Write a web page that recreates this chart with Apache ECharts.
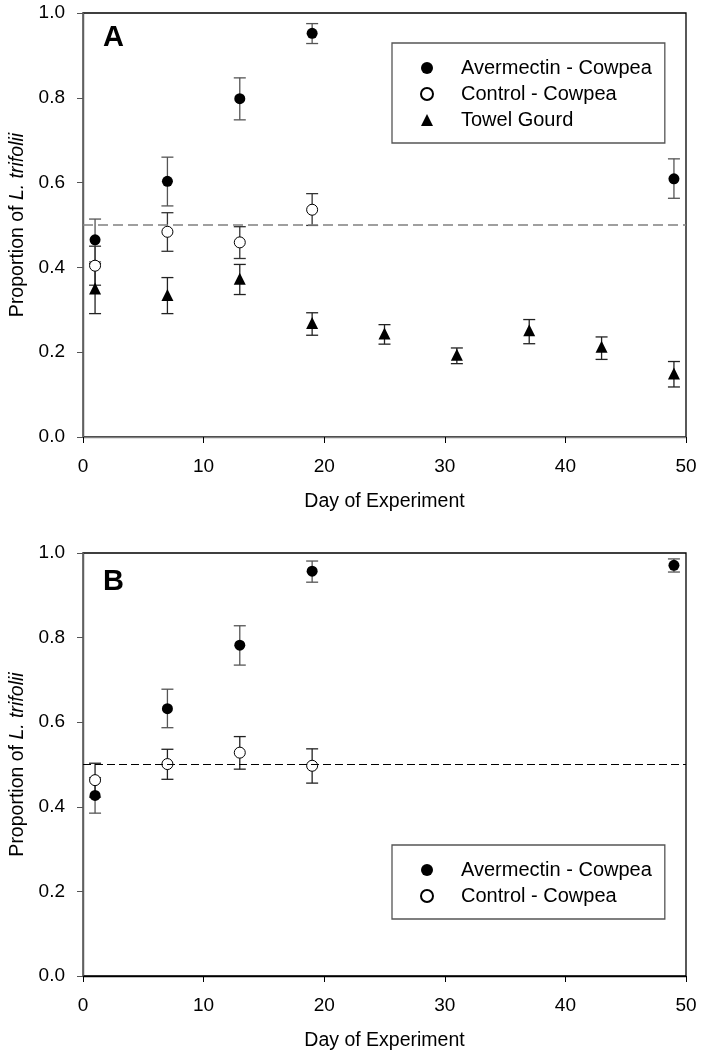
<!DOCTYPE html>
<html>
<head>
<meta charset="utf-8">
<script src="https://cdn.jsdelivr.net/npm/echarts@6/dist/echarts.min.js"></script>
<style>
  html, body { margin: 0; padding: 0; background: #fff; }
  #main { width: 702px; height: 1058px; }
</style>
</head>
<body>
<div id="main"></div>
<script>
// panel A
const avDaysA = [1, 7, 13, 19, 49];
const avMeanA = [0.465, 0.603, 0.798, 0.952, 0.609];
const avUpA = [0.514, 0.660, 0.847, 0.975, 0.656];
const avLowA = [0.413, 0.545, 0.748, 0.928, 0.563];

const ctDaysA = [1, 7, 13, 19];
const ctMeanA = [0.404, 0.484, 0.459, 0.536];
const ctUpA = [0.450, 0.529, 0.496, 0.574];
const ctLowA = [0.358, 0.438, 0.421, 0.499];

const tgDays = [1, 7, 13, 19, 25, 31, 37, 43, 49];
const tgMean = [0.350, 0.335, 0.373, 0.269, 0.244, 0.194, 0.252, 0.213, 0.150];
const tgUp = [0.409, 0.376, 0.407, 0.293, 0.265, 0.210, 0.277, 0.236, 0.178];
const tgLow = [0.291, 0.291, 0.336, 0.240, 0.219, 0.173, 0.220, 0.183, 0.118];

// panel B
const avDaysB = [1, 7, 13, 19, 49];
const avMeanB = [0.427, 0.632, 0.782, 0.957, 0.971];
const avUpB = [0.469, 0.678, 0.828, 0.981, 0.986];
const avLowB = [0.385, 0.587, 0.735, 0.931, 0.955];

const ctDaysB = [1, 7, 13, 19];
const ctMeanB = [0.463, 0.501, 0.528, 0.497];
const ctUpB = [0.503, 0.536, 0.566, 0.537];
const ctLowB = [0.423, 0.465, 0.489, 0.456];

const xTicks = [0, 10, 20, 30, 40, 50];
const yTicks = [0, 0.2, 0.4, 0.6, 0.8, 1.0];
const refLine = 0.5;

const FONT = '"Liberation Sans", Arial, sans-serif';
const AV = 'Avermectin - Cowpea';
const CT = 'Control - Cowpea';
const TG = 'Towel Gourd';

const pts = (xs, ys) => xs.map((x, i) => [x, ys[i]]);
const bars = (xs, lo, hi) => xs.map((x, i) => [x, lo[i], hi[i]]);

function errSeries(data, idx, color) {
  return {
    type: 'custom',
    xAxisIndex: idx, yAxisIndex: idx * 2,
    z: 1, silent: true,
    data: data,
    renderItem: function (params, api) {
      const x = api.value(0);
      const top = api.coord([x, api.value(2)]);
      const bot = api.coord([x, api.value(1)]);
      const w = 6;
      const st = { stroke: color, lineWidth: 1.3 };
      return {
        type: 'group',
        children: [
          { type: 'line', shape: { x1: top[0], y1: top[1], x2: bot[0], y2: bot[1] }, style: st },
          { type: 'line', shape: { x1: top[0] - w, y1: top[1], x2: top[0] + w, y2: top[1] }, style: st },
          { type: 'line', shape: { x1: bot[0] - w, y1: bot[1], x2: bot[0] + w, y2: bot[1] }, style: st }
        ]
      };
    }
  };
}

function dotSeries(name, data, idx, kind) {
  return {
    name: name,
    type: 'scatter',
    xAxisIndex: idx, yAxisIndex: idx * 2,
    z: 3,
    data: data,
    symbol: kind === 'tri' ? 'triangle' : 'circle',
    symbolSize: kind === 'tri' ? 12 : 11,
    itemStyle: kind === 'open'
      ? { color: '#fff', borderColor: '#000', borderWidth: 1, opacity: 1 }
      : { color: '#000', opacity: 1 }
  };
}

function refSeries(idx, color, dash, width) {
  return {
    type: 'line', xAxisIndex: idx, yAxisIndex: idx * 2,
    data: [], silent: true,
    markLine: {
      silent: true, symbol: 'none', label: { show: false },
      lineStyle: { color: color, type: dash, width: width },
      data: [{ yAxis: refLine }]
    }
  };
}

function xAx(idx, lineColor) {
  return {
    gridIndex: idx, type: 'value', min: xTicks[0], max: xTicks[xTicks.length - 1], interval: 10,
    name: 'Day of Experiment', nameLocation: 'middle', nameGap: 55, nameMoveOverlap: false,
    nameTextStyle: { fontFamily: FONT, fontSize: 19.5, color: '#000' },
    axisLine: { onZero: false, lineStyle: { color: lineColor, width: 1.3 } },
    axisTick: { length: 6, lineStyle: { color: '#000' } },
    axisLabel: { fontFamily: FONT, fontSize: 19, color: '#000', margin: 20 },
    splitLine: { show: false }
  };
}

function yAx(idx) {
  return [{
    gridIndex: idx, type: 'value', min: yTicks[0], max: yTicks[yTicks.length - 1], interval: 0.2,
    name: '{n|Proportion of }{i|L. trifolii}', nameLocation: 'middle', nameGap: 55, nameMoveOverlap: false,
    nameTextStyle: {
      fontFamily: FONT, fontSize: 19.5, color: '#000',
      rich: {
        n: { fontFamily: FONT, fontSize: 19.5, color: '#000' },
        i: { fontFamily: FONT, fontSize: 19.5, color: '#000', fontStyle: 'italic' }
      }
    },
    axisLine: { onZero: false, lineStyle: { color: '#000', width: 1.3 } },
    axisTick: { length: 6, lineStyle: { color: '#555' } },
    axisLabel: { fontFamily: FONT, fontSize: 19, color: '#000', margin: 18,
      formatter: v => v.toFixed(1) },
    splitLine: { show: false }
  }, {
    gridIndex: idx, type: 'value', position: 'right', min: 0, max: 1,
    axisLine: { show: true, lineStyle: { color: '#808080', width: 1.5 } },
    axisTick: { show: false }, axisLabel: { show: false }, splitLine: { show: false }
  }];
}

function legendAt(top, names) {
  return {
    orient: 'vertical', left: 392, top: top,
    data: names,
    itemWidth: 12, itemHeight: 12, itemGap: 6,
    padding: [15, 13, 13, 28],
    borderColor: '#555', borderWidth: 1.3, borderRadius: 0,
    selectedMode: false,
    textStyle: { fontFamily: FONT, fontSize: 20, color: '#000', padding: [0, 0, 0, 23] }
  };
}

const chart = echarts.init(document.getElementById('main'), null, { renderer: 'canvas' });
chart.setOption({
  animation: false,
  backgroundColor: '#fff',
  title: [
    { text: 'A', left: 98, top: 18, textStyle: { fontFamily: FONT, fontSize: 29, fontWeight: 'bold', color: '#000' } },
    { text: 'B', left: 98, top: 562, textStyle: { fontFamily: FONT, fontSize: 29, fontWeight: 'bold', color: '#000' } }
  ],
  grid: [
    { left: 83, top: 13, width: 603, height: 424, show: true, borderColor: '#000', borderWidth: 1.3, outerBoundsMode: 'none' },
    { left: 83, top: 553, width: 603, height: 423, show: true, borderColor: '#000', borderWidth: 1.3, outerBoundsMode: 'none' }
  ],
  legend: [
    legendAt(43, [AV, CT, TG]),
    legendAt(845, [AV, CT])
  ],
  xAxis: [xAx(0, '#808080'), xAx(1, '#000')],
  yAxis: yAx(0).concat(yAx(1)),
  series: [
    refSeries(0, '#808080', [10, 5], 1.6),
    refSeries(1, '#000', [8, 4], 1),
    errSeries(bars(avDaysA, avLowA, avUpA), 0, '#555'),
    errSeries(bars(ctDaysA, ctLowA, ctUpA), 0, '#333'),
    errSeries(bars(tgDays, tgLow, tgUp), 0, '#222'),
    errSeries(bars(avDaysB, avLowB, avUpB), 1, '#555'),
    errSeries(bars(ctDaysB, ctLowB, ctUpB), 1, '#222'),
    dotSeries(AV, pts(avDaysA, avMeanA), 0, 'fill'),
    dotSeries(CT, pts(ctDaysA, ctMeanA), 0, 'open'),
    dotSeries(TG, pts(tgDays, tgMean), 0, 'tri'),
    dotSeries(AV, pts(avDaysB, avMeanB), 1, 'fill'),
    dotSeries(CT, pts(ctDaysB, ctMeanB), 1, 'open')
  ]
});
</script>
</body>
</html>
